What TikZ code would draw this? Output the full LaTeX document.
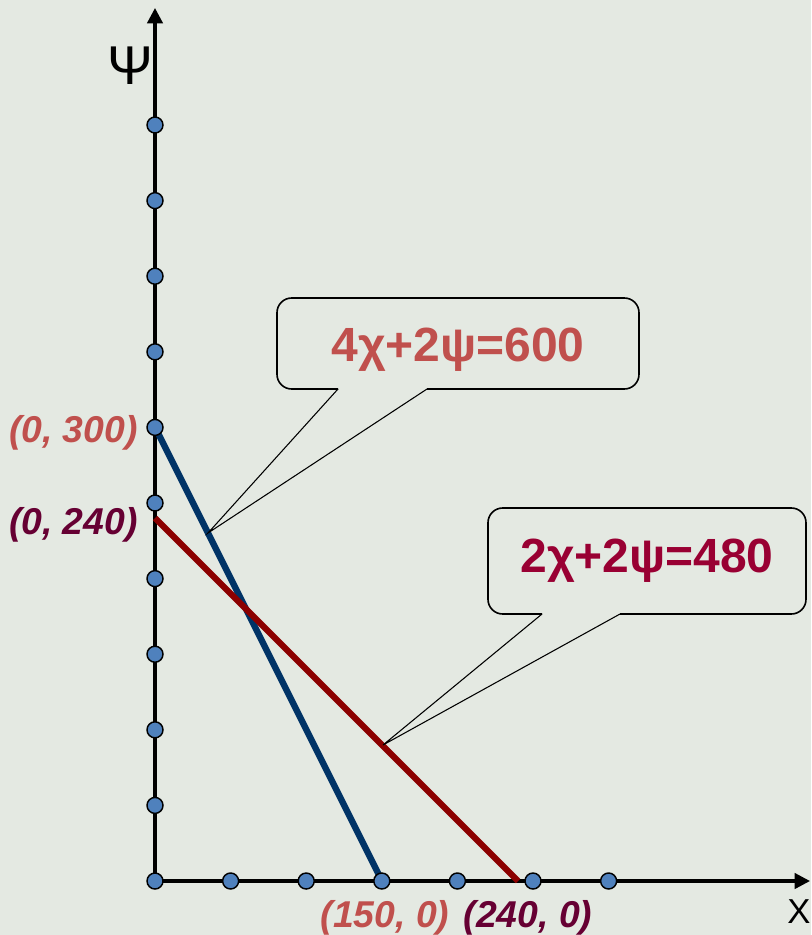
\documentclass[tikz,border=0pt]{standalone}
\usepackage{fontspec}
\setmainfont{Liberation Sans}
\usetikzlibrary{arrows.meta}
\definecolor{bgc}{HTML}{E4E9E2}
\definecolor{coral}{HTML}{C0504D}
\definecolor{plum}{HTML}{660033}
\definecolor{wine}{HTML}{990033}
\definecolor{navy}{HTML}{003366}
\definecolor{darkred}{HTML}{8B0000}
\definecolor{dotblue}{HTML}{4F81BD}
\begin{document}
\begin{tikzpicture}[x=0.75pt,y=-0.75pt,
  axisline/.style={line width=2.4pt,-{Triangle[length=11.5pt,width=11.5pt]}},
  dot/.style={circle,fill=dotblue,draw=black,line width=1.1pt,minimum size=12pt,inner sep=0pt},
  dataline/.style={line width=4.7pt},
  calloutbox/.style={line width=1.2pt,rounded corners=11pt},
  pointer/.style={line width=0.8pt},
  eqtext/.style={font=\fontsize{36pt}{40pt}\selectfont\bfseries,inner sep=0pt,anchor=base},
  coordtext/.style={font=\fontsize{28pt}{32pt}\selectfont\bfseries\itshape,inner sep=0pt},
  axistext/.style={inner sep=0pt}]
\fill[bgc] (0,0) rectangle (811,935);
\useasboundingbox (0,0) rectangle (811,935);
% axes
\coordinate (O) at (155,881);
\coordinate (ytip) at (155,8);
\coordinate (xtip) at (810,881);
\draw[axisline] (O) -- (ytip);
\draw[axisline] (O) -- (xtip);
\node[axistext,font=\fontsize{41pt}{44pt}\selectfont] (ylab) at (130,66) {Ψ};
\node[axistext,font=\fontsize{26pt}{30pt}\selectfont,anchor=base] (xlab) at (799,923) {X};
% data lines
\coordinate (a300) at (155,427);
\coordinate (a150) at (382,881);
\coordinate (b240) at (155,518);
\coordinate (b240x) at (518,881);
\draw[dataline,navy] (a300) -- (a150);
\draw[dataline,darkred] (b240) -- (b240x);
% dots
\foreach \k in {0,...,10} {
  \node[dot] (ydot\k) at (155,{881-75.6*\k}) {};
}
\foreach \k in {1,...,6} {
  \node[dot] (xdot\k) at ({155+75.6*\k},881) {};
}
% coordinate labels
\node[coordtext,coral,anchor=base east] (l300) at (138,442) {(0, 300)};
\node[coordtext,plum,anchor=base east] (l240) at (138,534) {(0, 240)};
\node[coordtext,coral,anchor=base] (l150) at (385,927) {(150, 0)};
\node[coordtext,plum,anchor=base] (l240x) at (528,927) {(240, 0)};
% callout 1
\node[eqtext,coral] (eq1) at (458,361) {4χ+2ψ=600};
\coordinate (t1) at (208,533);
\draw[calloutbox] (338,389) -- (277,389) -- (277,298) -- (639,298) -- (639,389) -- (427,389);
\draw[pointer] (338,389) -- (t1) -- (427,389);
% callout 2
\node[eqtext,wine] (eq2) at (647,572) {2χ+2ψ=480};
\coordinate (t2) at (383,745);
\draw[calloutbox] (542,614) -- (488,614) -- (488,508) -- (806,508) -- (806,614) -- (620,614);
\draw[pointer] (542,614) -- (t2) -- (620,614);
\end{tikzpicture}
\end{document}
